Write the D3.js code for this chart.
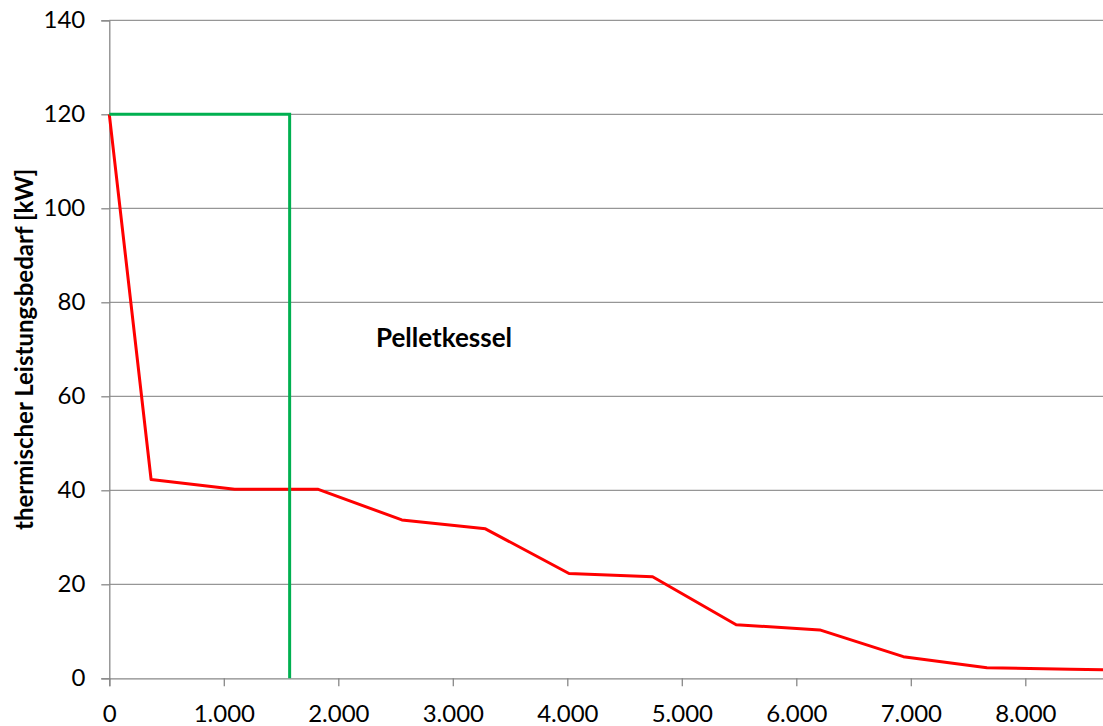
<!DOCTYPE html>
<html><head><meta charset="utf-8">
<script src="https://cdn.jsdelivr.net/npm/d3@7"></script>
<style>html,body{margin:0;padding:0;background:#fff;overflow:hidden}</style>
</head><body>
<svg id="c" width="1103" height="726"></svg>
<script>
const hours = [0, 365, 1095, 1825, 2555, 3285, 4015, 4745, 5475, 6205, 6935, 7665, 8395, 8760];
const demand = [120, 42.3, 40.2, 40.2, 33.7, 31.8, 22.3, 21.6, 11.4, 10.3, 4.6, 2.25, 1.95, 1.8];
const pelletX = [0, 1575, 1575];
const pelletY = [120, 120, 0];
const xTicks = [0, 1000, 2000, 3000, 4000, 5000, 6000, 7000, 8000];
const xTickLabels = ["0", "1.000", "2.000", "3.000", "4.000", "5.000", "6.000", "7.000", "8.000"];
const yTicks = [0, 20, 40, 60, 80, 100, 120, 140];
const yTitle = "thermischer Leistungsbedarf [kW]";
const annotation = "Pelletkessel";

const svg = d3.select("#c");
const mLeft = 109.3, mTop = 20.3, mBottom = 678.3;
const x = d3.scaleLinear().domain([0, 8760]).range([mLeft, mLeft + 8.76 * 114.5]);
const y = d3.scaleLinear().domain([0, 140]).range([mBottom, mTop]);
const font = "Lato, 'Open Sans', sans-serif";

// gridlines
svg.append("g").selectAll("line").data(yTicks.filter(d => d > 0)).join("line")
  .attr("x1", mLeft).attr("x2", x(8760))
  .attr("y1", d => y(d)).attr("y2", d => y(d))
  .attr("stroke", "#969696").attr("stroke-width", 1.3);

// y axis
const yAxis = d3.axisLeft(y).tickValues(yTicks).tickSize(8).tickPadding(16);
const gy = svg.append("g").attr("transform", `translate(${mLeft},0)`).call(yAxis);
gy.select(".domain").attr("stroke", "#888").attr("stroke-width", 1.3);
gy.selectAll(".tick line").attr("stroke", "#888").attr("stroke-width", 1.3);
gy.selectAll(".tick text").attr("font-family", font).attr("font-size", 24).attr("fill", "#000");

// x axis
const xAxis = d3.axisBottom(x).tickValues(xTicks).tickFormat((d, i) => xTickLabels[i]).tickSize(8).tickPadding(19);
const gx = svg.append("g").attr("transform", `translate(0,${mBottom})`).call(xAxis);
gx.select(".domain").attr("stroke", "#888").attr("stroke-width", 1.3);
gx.selectAll(".tick line").attr("stroke", "#888").attr("stroke-width", 1.3);
gx.selectAll(".tick text").attr("font-family", font).attr("font-size", 24).attr("fill", "#000");

// demand line
const line = d3.line().x(d => x(d[0])).y(d => y(d[1]));
svg.append("path").datum(hours.map((h, i) => [h, demand[i]]))
  .attr("d", line).attr("fill", "none").attr("stroke", "#ff0000").attr("stroke-width", 3).attr("stroke-linejoin", "round");

// pellet boiler
svg.append("path").datum(pelletX.map((h, i) => [h, pelletY[i]]))
  .attr("d", line).attr("fill", "none").attr("stroke", "#00b050").attr("stroke-width", 3);

// annotation
svg.append("text").attr("x", 376).attr("y", 347).text(annotation)
  .attr("font-family", font).attr("font-weight", "bold").attr("font-size", 26).attr("fill", "#000");

// y title
svg.append("text").attr("transform", `translate(33,${(mTop + mBottom) / 2}) rotate(-90)`)
  .attr("text-anchor", "middle").text(yTitle)
  .attr("font-family", font).attr("font-weight", "bold").attr("font-size", 24).attr("fill", "#000");
</script>
</body></html>
